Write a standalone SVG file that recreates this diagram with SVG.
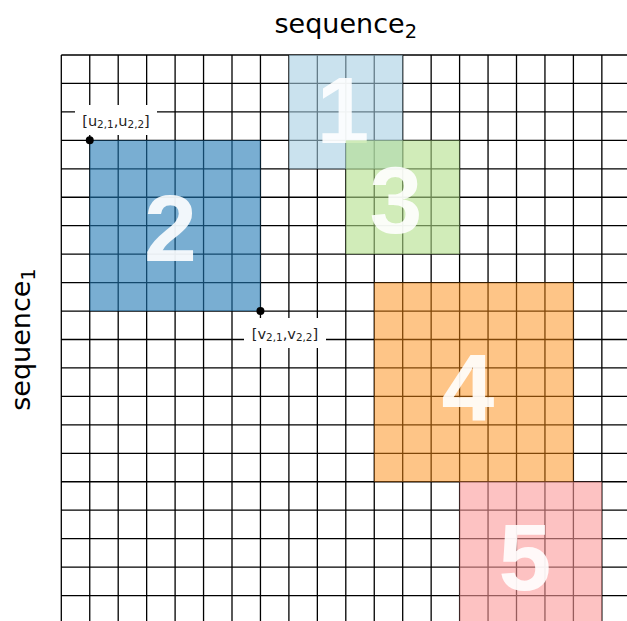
<svg xmlns="http://www.w3.org/2000/svg" width="627" height="621" viewBox="0 0 627 621">
<style>
.grid{fill:none;stroke:#000;stroke-width:1.3}
.num{font-family:"Liberation Sans",Arial,sans-serif;font-weight:bold;font-size:95px;fill:#fff;fill-opacity:0.9;text-anchor:middle}
.axis{font-family:"DejaVu Sans",sans-serif;font-size:27px;fill:#000;text-anchor:middle}
.lbl{font-family:"DejaVu Sans",sans-serif;font-size:14.5px;fill:#222;text-anchor:middle}
.sub{font-size:72%}
.box{fill:#fff}
.dot{fill:#000}
</style>
<rect width="627" height="621" fill="#fff"/>
<g id="grid">
<path class="grid" d="M61.3 55V624M89.75 55V624M118.2 55V624M146.65 55V624M175.1 55V624M203.55 55V624M232 55V624M260.45 55V624M288.9 55V624M317.35 55V624M345.8 55V624M374.25 55V624M402.7 55V624M431.15 55V624M459.6 55V624M488.05 55V624M516.5 55V624M544.95 55V624M573.4 55V624M601.85 55V624M61.3 55H630M61.3 83.45H630M61.3 111.9H630M61.3 140.35H630M61.3 168.8H630M61.3 197.25H630M61.3 225.7H630M61.3 254.15H630M61.3 282.6H630M61.3 311.05H630M61.3 339.5H630M61.3 367.95H630M61.3 396.4H630M61.3 424.85H630M61.3 453.3H630M61.3 481.75H630M61.3 510.2H630M61.3 538.65H630M61.3 567.1H630M61.3 595.55H630"/>
</g>
<g id="node2">
<rect x="89.75" y="140.35" width="170.7" height="170.7" fill="#1f78b4" fill-opacity="0.6"/>
<text class="num" x="170.3" y="260.5">2</text>
</g>
<g id="node1">
<rect x="288.9" y="55" width="113.8" height="113.8" fill="#a6cee3" fill-opacity="0.6"/>
<text class="num" x="343" y="143">1</text>
</g>
<g id="node3">
<rect x="345.8" y="140.35" width="113.8" height="113.8" fill="#b2df8a" fill-opacity="0.6"/>
<text class="num" x="396" y="232.7">3</text>
</g>
<g id="node4">
<rect x="374.25" y="282.6" width="199.15" height="199.15" fill="#fe8c10" fill-opacity="0.5"/>
<text class="num" x="468" y="420">4</text>
</g>
<g id="node5">
<rect x="459.6" y="481.75" width="142.25" height="142.25" fill="#fb9a99" fill-opacity="0.6"/>
<text class="num" x="525" y="590">5</text>
</g>
<g id="connectors"></g>
<g id="label-u">
<rect class="box" x="75" y="105" width="82" height="30"/>
<text class="lbl" x="116" y="125.5">[u<tspan class="sub" dy="2.5">2,1</tspan><tspan dy="-2.5">,u</tspan><tspan class="sub" dy="2.5">2,2</tspan><tspan dy="-2.5">]</tspan></text>
<circle class="dot" cx="89.75" cy="140.35" r="4"/>
</g>
<g id="label-v">
<rect class="box" x="244" y="318" width="82" height="30"/>
<text class="lbl" x="285" y="338.5">[v<tspan class="sub" dy="2.5">2,1</tspan><tspan dy="-2.5">,v</tspan><tspan class="sub" dy="2.5">2,2</tspan><tspan dy="-2.5">]</tspan></text>
<circle class="dot" cx="260.45" cy="311.05" r="4"/>
</g>
<g id="axis-labels">
<text class="axis" x="345.8" y="33">sequence<tspan class="sub" dy="4.5">2</tspan></text>
<text class="axis" transform="translate(30,339.5) rotate(-90)">sequence<tspan class="sub" dy="4.5">1</tspan></text>
</g>
</svg>
